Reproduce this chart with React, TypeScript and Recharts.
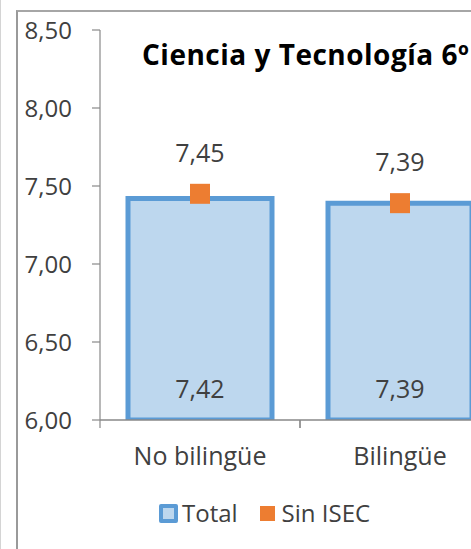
import React from 'react';
import { ComposedChart, Bar, Line, XAxis, YAxis, LabelList } from 'recharts';

const categories = ['No bilingüe', 'Bilingüe'];
const totalValues = [7.42, 7.39];
const sinIsecValues = [7.45, 7.39];
const yTicks = [6, 6.5, 7, 7.5, 8, 8.5];
const titleText = 'Ciencia y Tecnología 6º';
const legendLabels = ['Total', 'Sin ISEC'];

const data = categories.map((c, i) => ({ name: c, total: totalValues[i], sinIsec: sinIsecValues[i] }));

const fmt = (v: any) => Number(v).toFixed(2).replace('.', ',');

const BLUE = '#5B9BD5';
const LIGHT = '#BDD7EE';
const ORANGE = '#ED7D31';
const AXIS = '#898989';
const TEXT = '#404040';
const FONT = '"Open Sans", "Noto Sans", sans-serif';

const CHART_W = 520;
const CHART_H = 549;
const MARGIN = { top: 30, right: 20, bottom: 89, left: 0 };
const Y_W = 100;
const HALF_BAND = (CHART_W - MARGIN.left - MARGIN.right - Y_W) / categories.length / 2;

const SquareDot = (props: any) => {
  const { cx, cy, index } = props;
  if (cx == null || cy == null) return null;
  return <rect key={`sq-${index}`} x={cx - 10} y={cy - 10} width={20} height={20} fill={ORANGE} />;
};

const CatTick = (props: any) => {
  const { x, y, payload } = props;
  return (
    <g>
      <line x1={x - HALF_BAND} x2={x - HALF_BAND} y1={y} y2={y + 8} stroke={AXIS} strokeWidth={1.2} />
      <line x1={x + HALF_BAND} x2={x + HALF_BAND} y1={y} y2={y + 8} stroke={AXIS} strokeWidth={1.2} />
      <text x={x} y={y + 45} textAnchor="middle" fill={TEXT} fontSize={25} fontFamily={FONT}>
        {payload.value}
      </text>
    </g>
  );
};

export default function App() {
  return (
    <div
      style={{
        position: 'fixed',
        left: 0,
        top: 0,
        width: 471,
        height: 549,
        overflow: 'hidden',
        background: '#fff',
        fontFamily: FONT,
      }}
    >
      <div style={{ position: 'absolute', left: 0, top: 0, width: 1, height: 549, background: '#d4d4d4' }} />
      <div
        style={{
          position: 'absolute',
          left: 16,
          top: 10,
          width: 600,
          height: 600,
          borderLeft: '2px solid #9a9a9a',
          borderTop: '2px solid #a6a6a6',
        }}
      />
      <div style={{ position: 'absolute', left: 0, top: 0 }}>
        <ComposedChart
          width={CHART_W}
          height={CHART_H}
          data={data}
          margin={MARGIN}
          barCategoryGap="14%"
          style={{ fontFamily: FONT }}
        >
          <XAxis
            xAxisId="cat"
            dataKey="name"
            height={40}
            tickLine={false}
            tickSize={0}
            tickMargin={0}
            axisLine={{ stroke: AXIS, strokeWidth: 1.5 }}
            tick={<CatTick />}
            interval={0}
          />
          <YAxis
            domain={[6, 8.5]}
            ticks={yTicks}
            allowDataOverflow
            interval={0}
            tickFormatter={fmt}
            width={Y_W}
            tickSize={8}
            tickMargin={20}
            axisLine={{ stroke: AXIS, strokeWidth: 1.2 }}
            tickLine={{ stroke: AXIS, strokeWidth: 1.2 }}
            tick={{ fill: TEXT, fontSize: 24 }}
          />
          <Bar
            xAxisId="cat"
            dataKey="total"
            fill={LIGHT}
            stroke={BLUE}
            strokeWidth={5}
            isAnimationActive={false}
          >
            <LabelList dataKey="total" position="insideBottom" offset={22} formatter={fmt} fill={TEXT} fontSize={25} />
          </Bar>
          <Line
            xAxisId="cat"
            dataKey="sinIsec"
            stroke="none"
            dot={SquareDot}
            activeDot={false}
            isAnimationActive={false}
          >
            <LabelList dataKey="sinIsec" position="top" offset={32} formatter={fmt} fill={TEXT} fontSize={25} />
          </Line>
        </ComposedChart>
      </div>
      <div
        style={{
          position: 'absolute',
          left: 142,
          top: 40,
          fontSize: 28,
          lineHeight: '28px',
          fontWeight: 700,
          color: '#000',
          whiteSpace: 'pre',
          letterSpacing: 0.5,
        }}
      >
        {titleText}
      </div>
      <div
        style={{
          position: 'absolute',
          left: 159,
          top: 503,
          height: 20,
          display: 'flex',
          alignItems: 'center',
          fontSize: 24,
          lineHeight: '20px',
          color: TEXT,
        }}
      >
        <div
          style={{
            width: 19,
            height: 19,
            boxSizing: 'border-box',
            border: `4px solid ${BLUE}`,
            background: LIGHT,
            borderRadius: 2,
          }}
        />
        <span style={{ marginLeft: 4 }}>{legendLabels[0]}</span>
        <div style={{ width: 15, height: 15, background: ORANGE, marginLeft: 22 }} />
        <span style={{ marginLeft: 7 }}>{legendLabels[1]}</span>
      </div>
    </div>
  );
}
